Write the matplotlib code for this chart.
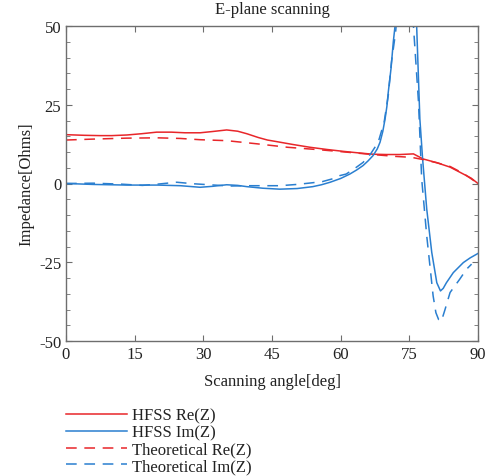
import numpy as np
import matplotlib.pyplot as plt
from matplotlib.ticker import MultipleLocator

plt.rcParams['font.family'] = ['Liberation Serif', 'DejaVu Serif']

# HFSS Re(Z)
hfss_re_x = [0, 4, 7.4, 10, 13.3, 16.5, 19.8, 23, 26, 29.3, 32, 35.1, 37.5, 39.5, 42, 44, 46, 49.5, 53.3,
             57, 60.6, 64, 67, 70, 72.9, 75.9, 78, 81, 83.9, 86.8, 88.5, 90]
hfss_re_y = [15.5, 15.3, 15.2, 15.2, 15.4, 15.8, 16.3, 16.3, 16.1, 16.1, 16.5, 17.0, 16.6, 15.8, 14.6, 13.8, 13.3, 12.4, 11.5,
             10.8, 10.2, 9.7, 9.3, 9.2, 9.2, 9.4, 7.8, 6.6, 5.2, 3.0, 1.7, 0.0]

# Theoretical Re(Z)
theo_re_x = [0, 6, 13.3, 20, 25, 29.3, 35.1, 41.7, 48.4, 55.5, 61.7, 67, 72, 75.5, 78, 81, 83.9, 86.8, 90]
theo_re_y = [13.8, 14.1, 14.4, 14.5, 14.3, 13.9, 13.6, 12.6, 11.5, 10.7, 9.9, 9.2, 8.6, 8.3, 7.6, 6.6, 5.4, 3.2, 0.0]

# HFSS Im(Z)
hfss_im_x = [0, 6, 13.3, 20, 25, 29.3, 32, 35.1, 37.5, 39.5, 43, 46.7, 50.5, 53.9, 55.8, 57.7, 60, 62, 63.5,
             64.9, 66, 67.1, 68, 68.6, 69.2, 69.7, 70.1, 70.4, 71, 71.5, 71.9, 72.5, 73.5, 74.5, 75.5, 76.2,
             76.6, 77.3, 77.9, 78.8, 79.9, 81, 81.8, 82.4, 83.1, 84.6, 86.8, 88.3, 90]
hfss_im_y = [0.0, -0.3, -0.5, -0.5, -0.7, -1.2, -0.9, -0.4, -0.6, -1.0, -1.5, -1.8, -1.6, -1.0, -0.4, 0.4, 1.6, 3.0, 4.3,
             5.7, 7.2, 8.9, 11.0, 13.1, 16.5, 20.5, 24.5, 29, 36.5, 45, 50.3, 62, 85, 100, 85, 62,
             50, 20.5, 7.8, -8.1, -21.9, -31.5, -34.1, -33.3, -31.5, -28.3, -25.1, -23.6, -22.2]

# Theoretical Im(Z)
theo_im_x = [0, 6, 12, 16.7, 20, 24.2, 28, 32.4, 36, 39.5, 43, 46.7, 50.4, 53, 56, 58.5, 59.8, 61.2, 63,
             64.9, 66.5, 68.2, 69.5, 70.4, 71.1, 72, 72.8, 73.8, 74.8, 75.5, 75.9,
             77, 77.7, 78.8, 80.2, 80.8, 81.4, 82, 82.8, 83.9, 86, 87.5, 88.6]
theo_im_y = [0.0, 0.1, -0.2, -0.6, -0.2, 0.4, -0.1, -0.5, -0.8, -0.7, -0.7, -0.7, -0.3, 0.1, 0.6, 1.6, 2.5, 3.0, 4.7,
             6.7, 9.3, 13.1, 19.5, 28, 38.6, 48, 62, 85, 90, 70, 50,
             25.9, 1.4, -16.6, -35.7, -41, -43.2, -43.7, -40, -34.6, -30.4, -27.2, -25.6]

red = '#e8262a'
blue = '#2a7fd0'
frame = '#6e6e6e'
dash = (0, (7, 5))

fig = plt.figure(figsize=(5.03, 4.77), dpi=100)
ax = fig.add_axes([66 / 503, 1 - 342 / 477, 412 / 503, 315 / 477])

ax.plot(hfss_re_x, hfss_re_y, color=red, lw=1.1, label='HFSS Re(Z)')
ax.plot(hfss_im_x, hfss_im_y, color=blue, lw=1.1, label='HFSS Im(Z)')
ax.plot(theo_re_x, theo_re_y, color=red, lw=1.1, linestyle=dash, label='Theoretical Re(Z)')
ax.plot(theo_im_x, theo_im_y, color=blue, lw=1.1, linestyle=dash, label='Theoretical Im(Z)')

ax.set_xlim(0, 90)
ax.set_ylim(-50, 50)
ax.set_xticks([0, 15, 30, 45, 60, 75, 90])
ax.set_yticks([-50, -25, 0, 25, 50])
ax.set_yticklabels(['-50', '-25', '0', '25', '50'])
ax.yaxis.set_minor_locator(MultipleLocator(5))
ax.tick_params(which='both', direction='in', top=True, right=True, colors=frame,
               labelcolor='#222222', labelsize=12)
ax.tick_params(which='major', length=4)
ax.tick_params(which='minor', length=3)
for s in ax.spines.values():
    s.set_color(frame)
    s.set_linewidth(1.0)

ax.set_title('E-plane scanning', fontsize=12, color='#222222', pad=9)
ax.set_xlabel('Scanning angle[deg]', fontsize=12, color='#222222', labelpad=8)
ax.set_ylabel('Impedance[Ohms]', fontsize=12, color='#222222', labelpad=3)

fig.legend(loc='upper left', bbox_to_anchor=(59 / 503, 1 - 402 / 477), frameon=False,
           fontsize=12, handlelength=3.7, handletextpad=0.3, labelspacing=0.05,
           borderaxespad=0, labelcolor='#222222')

fig.savefig('out.png', dpi=100)
